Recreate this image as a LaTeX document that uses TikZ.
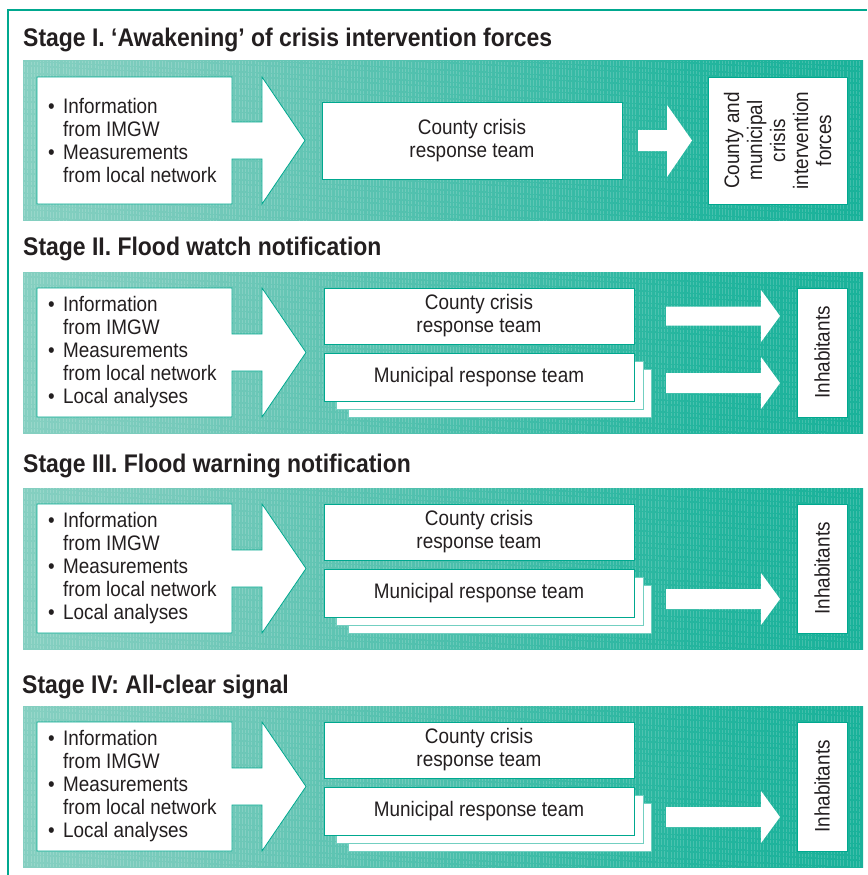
\documentclass[tikz,border=0pt]{standalone}
\usepackage{fontspec}
\setmainfont{Liberation Sans}[FakeStretch=0.9]
\definecolor{teal1}{HTML}{00A88F}
\definecolor{ink}{HTML}{231F20}
\pgfdeclarehorizontalshading{bandshade}{100bp}{rgb(0bp)=(0.68,0.87,0.82); rgb(35bp)=(0.46,0.79,0.73); rgb(65bp)=(0.14,0.71,0.62); rgb(100bp)=(0,0.66,0.56)}
\newcommand\bul{\makebox[15pt][l]{•}}
\newcommand\ind{\hspace*{15pt}}
\tikzset{
  bandbox/.style={shading=bandshade, draw=none},
  stripe/.style={white, opacity=0.17, line width=0.6pt, dash pattern=on 6pt off 1.5pt on 3pt off 1.5pt},
  whitebox/.style={fill=white, draw=teal1, line width=0.8pt, inner sep=0pt, align=center, text=ink, font=\fontsize{21}{23}\selectfont},
  shadowbox/.style={fill=white, draw=teal1!55, line width=0.8pt},
  blockarrow/.style={fill=white, draw=none},
  inshape/.style={fill=white, draw=teal1, line width=0.8pt},
  bodytext/.style={text=ink, font=\fontsize{21}{23}\selectfont, inner sep=0pt, align=left, anchor=west},
  rottext/.style={text=ink, font=\fontsize{21}{23}\selectfont, inner sep=0pt, align=center, rotate=90},
  titletext/.style={text=ink, font=\fontsize{25.5}{28}\selectfont\bfseries, anchor=base west, inner sep=0pt},
  frameline/.style={draw=teal1, line width=2pt},
}
\newcommand\drawband[2]{%
  \shade[bandbox] (23,#1) rectangle (863,#2);
  \foreach \xx [evaluate=\xx as \ph using {mod(\xx*3.7,12)}] in {24.5,27.7,...,862}{\draw[stripe, dash phase=\ph pt] (\xx,#1) -- (\xx,#2);}
}
\newcommand\laterstage[2]{% #1 = 1 if upper arrow
  \drawband{0}{161}
  \draw[inshape] (37,16) -- (232,16) -- (232,62) -- (262,62) -- (262,16) -- (306,80.5) -- (262,145) -- (262,99) -- (232,99) -- (232,145) -- (37,145) -- cycle;
  \node[bodytext] (in) at (48,80.5) {\bul Information\\\ind from IMGW\\\bul Measurements\\\ind from local network\\\bul Local analyses};
  \node[whitebox, minimum width=310pt, minimum height=56pt] (county) at (479,44) {County crisis\\response team};
  \draw[shadowbox] (348,97) rectangle (651,145);
  \draw[shadowbox] (336,89) rectangle (643,137);
  \node[whitebox, minimum width=310pt, minimum height=48pt] (muni) at (479,105) {Municipal response team};
  \ifnum#1=1
  \fill[blockarrow] (666,34.5) -- (761,34.5) -- (761,18) -- (780,44) -- (761,70) -- (761,53.5) -- (666,53.5) -- cycle;
  \fi
  \fill[blockarrow] (666,101) -- (761,101) -- (761,85) -- (780,111) -- (761,137) -- (761,121) -- (666,121) -- cycle;
  \node[whitebox, minimum width=50pt, minimum height=129pt] (inh) at (822,80.5) {};
  \node[rottext] (inhtext) at (inh.center) {Inhabitants};
}
\begin{document}
\begin{tikzpicture}[x=1pt,y=-1pt]
\useasboundingbox (0,0) rectangle (867,875);
\fill[white] (0,0) rectangle (867,875);
\draw[frameline] (8,875) -- (8,10) -- (867,10);

% titles
\node[titletext] (t1) at (23,47) {Stage I. ‘Awakening’ of crisis intervention forces};
\node[titletext] (t2) at (23,255.5) {Stage II. Flood watch notification};
\node[titletext] (t3) at (23,472) {Stage III. Flood warning notification};
\node[titletext] (t4) at (22,693.5) {Stage IV: All-clear signal};

% Stage I
\drawband{61}{220}
\draw[inshape] (37,77) -- (232,77) -- (232,122) -- (262,122) -- (262,77) -- (305,140.5) -- (262,204) -- (262,159) -- (232,159) -- (232,204) -- (37,204) -- cycle;
\node[bodytext] (in1) at (48,140.5) {\bul Information\\\ind from IMGW\\\bul Measurements\\\ind from local network};
\node[whitebox, minimum width=300pt, minimum height=77pt] (county1) at (472,140.5) {County crisis\\response team};
\fill[blockarrow] (638,130) -- (667,130) -- (667,105) -- (692,140.5) -- (667,177) -- (667,151) -- (638,151) -- cycle;
\node[whitebox, minimum width=139pt, minimum height=127pt] (forces) at (777.5,140.5) {};
\node[rottext] (forcestext) at (forces.center) {County and\\municipal\\crisis\\intervention\\forces};

\begin{scope}[yshift=-272pt, name prefix=s2-]
\laterstage{1}{}
\end{scope}
\begin{scope}[yshift=-488pt, name prefix=s3-]
\laterstage{0}{}
\end{scope}
\begin{scope}[yshift=-706pt, name prefix=s4-]
\laterstage{0}{}
\end{scope}
\end{tikzpicture}
\end{document}
